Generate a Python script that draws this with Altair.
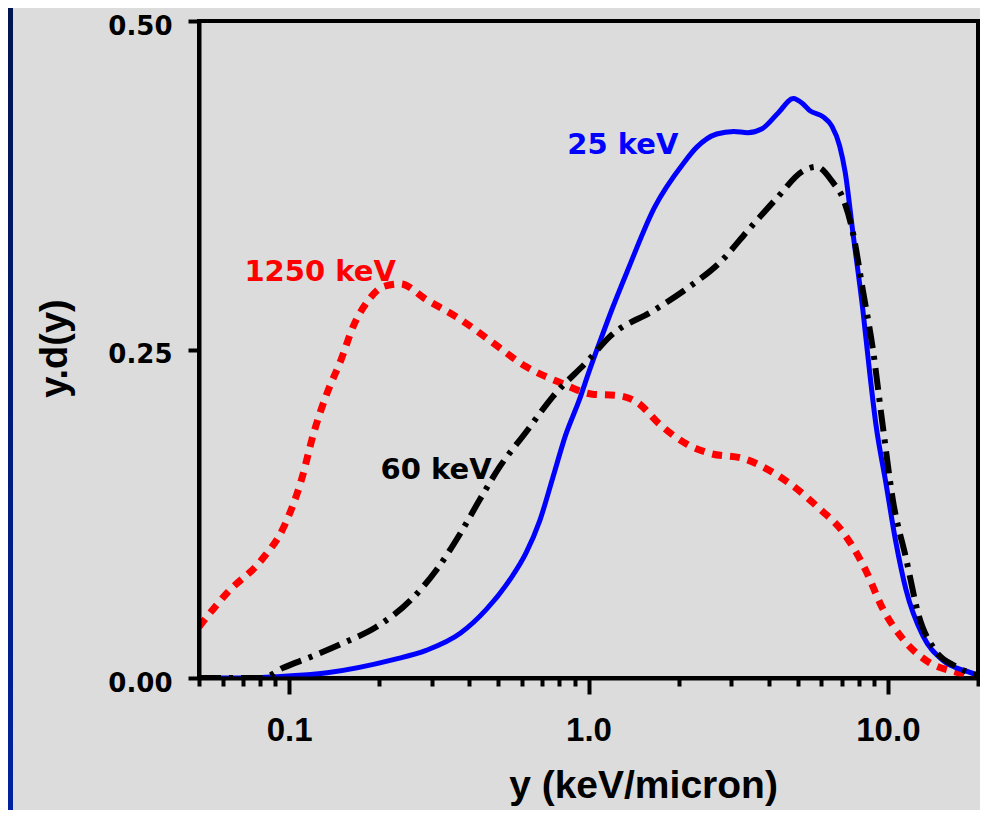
import altair as alt
import pandas as pd

# ---- data ----
y25_x = [0.05, 0.07, 0.09, 0.134, 0.223, 0.287, 0.373, 0.455, 0.547, 0.618, 0.688, 0.759,
         0.839, 0.933, 1.0, 1.1, 1.2, 1.35, 1.66, 2.08, 2.3, 2.68, 3.06, 3.4, 3.8, 4.3, 4.83, 5.2, 5.47,
         6.08, 6.5, 6.9, 7.2, 7.64, 8.25, 8.65, 9.12, 9.84, 10.6, 11.5, 13.1, 15.2, 18.6, 20.0]
y25_v = [0.0, 0.0, 0.001, 0.004, 0.014, 0.021, 0.034, 0.052, 0.075, 0.095, 0.12, 0.152,
         0.185, 0.212, 0.232, 0.258, 0.281, 0.31, 0.358, 0.392, 0.404, 0.414, 0.416, 0.415, 0.418, 0.43, 0.441, 0.437, 0.432,
         0.427, 0.42, 0.405, 0.385, 0.339, 0.28, 0.237, 0.193, 0.149, 0.105, 0.067, 0.032, 0.0137, 0.0046, 0.002]

y60_x = [0.05, 0.065, 0.081, 0.096, 0.118, 0.153, 0.196, 0.254, 0.31, 0.373, 0.434, 0.506,
         0.618, 0.759, 1.0, 1.18, 1.66, 2.18, 2.74, 3.45, 4.25, 5.22, 5.77, 6.56, 7.08, 7.64,
         8.25, 8.9, 9.6, 10.4, 11.5, 12.7, 14.4, 16.8, 20.0]
y60_v = [0.0, 0.0, 0.0, 0.008, 0.016, 0.027, 0.039, 0.059, 0.082, 0.11, 0.136, 0.161,
         0.187, 0.214, 0.242, 0.26, 0.28, 0.298, 0.316, 0.342, 0.365, 0.386, 0.389, 0.377, 0.365, 0.339,
         0.295, 0.251, 0.193, 0.135, 0.091, 0.047, 0.021, 0.009, 0.002]

y1250_x = [0.05, 0.0622, 0.081, 0.096, 0.11, 0.121, 0.134, 0.149, 0.164, 0.182, 0.207, 0.235,
           0.287, 0.373, 0.48, 0.618, 0.8, 1.03, 1.25, 1.45, 1.73, 2.13, 2.54, 3.3, 4.02, 4.83,
           5.9, 7.08, 8.43, 9.6, 11.2, 13.7, 16.8, 20.0]
y1250_v = [0.039, 0.065, 0.09, 0.115, 0.151, 0.187, 0.217, 0.242, 0.268, 0.286, 0.298, 0.3,
           0.288, 0.273, 0.255, 0.237, 0.225, 0.216, 0.215, 0.21, 0.193, 0.178, 0.171, 0.167, 0.158, 0.146,
           0.129, 0.111, 0.082, 0.053, 0.03, 0.012, 0.0046, 0.0]

series_names = ["25 keV", "60 keV", "1250 keV"]
series_colors = ["#0000ff", "#000000", "#ff0000"]

label_text = ["25 keV", "1250 keV", "60 keV"]
label_x = [0.85, 0.0709, 0.202]
label_y = [0.406, 0.309, 0.1585]

x_tick_values = [0.05, 0.06, 0.07, 0.08, 0.09, 0.1, 0.2, 0.3, 0.4, 0.5, 0.6, 0.7, 0.8, 0.9,
                 1, 2, 3, 4, 5, 6, 7, 8, 9, 10, 20]
y_tick_values = [0.0, 0.25, 0.5]

# ---- build table ----
rows = []
for name, xs, vs in [("25 keV", y25_x, y25_v), ("60 keV", y60_x, y60_v), ("1250 keV", y1250_x, y1250_v)]:
    for i, (a, b) in enumerate(zip(xs, vs)):
        rows.append({"series": name, "y": a, "yd": b, "order": i})
df = pd.DataFrame(rows)
labels_df = pd.DataFrame({"text": label_text, "x": label_x, "y": label_y})

W, H = 779, 657
PAD = {"left": 191, "top": 13, "right": 2, "bottom": 132}

x_scale = alt.Scale(type="log", domain=[0.05, 20], nice=False)
y_scale = alt.Scale(domain=[0, 0.5], nice=False)

x_axis = alt.Axis(
    values=x_tick_values,
    labelExpr="datum.value == 0.1 ? '0.1' : datum.value == 1 ? '1.0' : datum.value == 10 ? '10.0' : ''",
    tickSize={"condition": {"test": "datum.value == 0.1 || datum.value == 1 || datum.value == 10", "value": 16}, "value": 8},
    tickWidth=4, tickColor="black",
    domainWidth=4, domainColor="black",
    labelFont="Liberation Sans", labelFontWeight="bold", labelFontSize=33, labelColor="black",
    labelPadding=20, labelFlush=False, labelOverlap=False,
    grid=False,
    title="y (keV/micron)",
    titleFont="Liberation Sans", titleFontWeight="bold", titleFontSize=39, titleColor="black",
    titleX=444, titleY=119, titleBaseline="alphabetic", titleAlign="center",
    zindex=1,
)
y_axis = alt.Axis(
    values=y_tick_values, format=".2f",
    tickSize=11, tickWidth=4, tickColor="black",
    domainWidth=4, domainColor="black",
    labelFont="DejaVu Sans", labelFontWeight="bold", labelFontSize=26, labelColor="black",
    labelPadding=16, labelOffset=5,
    grid=False,
    title="y.d(y)",
    titleFont="Liberation Sans", titleFontWeight="bold", titleFontSize=38, titleColor="black",
    titleX=-144, titleY=327, titleAngle=270, titleAlign="center", titleBaseline="middle",
    zindex=1,
)

base = alt.Chart(df)

def line_for(name, color, width, dash):
    kw = dict(strokeWidth=width, interpolate="monotone", clip=True, strokeCap="butt", color=color)
    if dash:
        kw["strokeDash"] = dash
    return base.transform_filter(alt.datum.series == name).mark_line(**kw).encode(
        x=alt.X("y:Q", scale=x_scale, axis=x_axis),
        y=alt.Y("yd:Q", scale=y_scale, axis=y_axis),
        order="order:Q",
    )

red = line_for("1250 keV", series_colors[2], 7, [10, 8])
blue = line_for("25 keV", series_colors[0], 5, None)
black = line_for("60 keV", series_colors[1], 6, [22, 8, 4, 8])

text = alt.Chart(labels_df).mark_text(
    font="DejaVu Sans", fontWeight="bold", fontSize=29, align="left", baseline="middle"
).encode(
    x=alt.X("x:Q", scale=x_scale),
    y=alt.Y("y:Q", scale=y_scale),
    text="text:N",
    color=alt.Color("text:N", scale=alt.Scale(domain=label_text, range=[series_colors[0], series_colors[2], series_colors[1]]), legend=None),
)

strip = alt.Chart(alt.Data(values=[{"a": 1}])).mark_rect(
    fill=alt.LinearGradient(
        gradient="linear", x1=0, y1=0, x2=0, y2=1,
        stops=[alt.GradientStop(color="#001450", offset=0), alt.GradientStop(color="#00229e", offset=1)],
    ),
    clip=False,
).encode(
    x=alt.value(-PAD["left"]), x2=alt.value(-PAD["left"] + 5),
    y=alt.value(-PAD["top"]), y2=alt.value(H + PAD["bottom"]),
)

chart = alt.layer(strip, red, blue, black, text).properties(
    width=W, height=H, padding=PAD, autosize="none", background="#dcdcdc",
).configure_view(stroke="black", strokeWidth=4, fill=None)

chart.save("out.html", embed_options={"renderer": "svg", "actions": False})
